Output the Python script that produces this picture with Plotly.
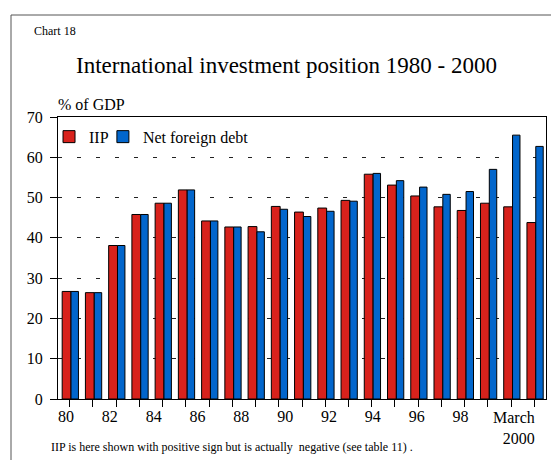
import plotly.graph_objects as go

categories = ["80", "81", "82", "83", "84", "85", "86", "87", "88", "89",
              "90", "91", "92", "93", "94", "95", "96", "97", "98", "99",
              "March 2000"]
iip = [26.7, 26.4, 38.1, 45.8, 48.6, 51.9, 44.2, 42.7, 42.8, 47.8,
       46.4, 47.4, 49.3, 55.8, 53.1, 50.4, 47.7, 46.8, 48.6, 47.7, 43.8]
net_foreign_debt = [26.7, 26.4, 38.1, 45.8, 48.6, 51.9, 44.2, 42.7, 41.5, 47.1,
                    45.3, 46.6, 49.1, 56.0, 54.2, 52.6, 50.8, 51.5, 57.0, 65.5, 62.7]
tick_labels = ["80", "", "82", "", "84", "", "86", "", "88", "", "90", "",
               "92", "", "94", "", "96", "", "98", "", ""]
last_label = "March<br>2000"

FONT = "Liberation Serif, Times New Roman, serif"
RED = "#d8221c"
BLUE = "#0266cc"

fig = go.Figure()
fig.add_trace(go.Bar(
    x=categories, y=iip, name="IIP", legend="legend",
    marker=dict(color=RED, line=dict(color="black", width=1)),
    width=0.38, offset=-0.32,
))
fig.add_trace(go.Bar(
    x=categories, y=net_foreign_debt, name="Net foreign debt", legend="legend2",
    marker=dict(color=BLUE, line=dict(color="black", width=1)),
    width=0.32, offset=0.06,
))
# helper trace so the label axis (x2) is drawn
fig.add_trace(go.Scatter(x=categories, y=[None] * len(categories), xaxis="x2",
                         showlegend=False, hoverinfo="skip", mode="markers"))

# page body adds an 8px offset, so the figure is 8px smaller and margins reduced
fig.update_layout(
    width=551, height=452,
    margin=dict(l=50, r=13, t=109, b=61, autoexpand=False),
    paper_bgcolor="white", plot_bgcolor="white",
    barmode="overlay",
    font=dict(family=FONT, color="black", size=16),
    showlegend=True,
    legend=dict(orientation="h", x=-0.0184, y=0.93, yanchor="middle", xanchor="left",
                bgcolor="rgba(0,0,0,0)", font=dict(size=16, family=FONT),
                itemwidth=30),
    legend2=dict(orientation="h", x=0.092, y=0.93, yanchor="middle", xanchor="left",
                 bgcolor="rgba(0,0,0,0)", font=dict(size=16, family=FONT),
                 itemwidth=30),
    xaxis=dict(
        type="category", categoryorder="array", categoryarray=categories,
        tickmode="array", tickvals=categories, showticklabels=False,
        ticks="outside", ticklen=7, tickcolor="black", tickwidth=1,
        showline=True, linecolor="black", linewidth=1, mirror=True,
        showgrid=False,
        range=[-0.5, len(categories) - 0.5],
    ),
    xaxis2=dict(
        type="category", categoryorder="array", categoryarray=categories,
        overlaying="x", anchor="y", side="bottom",
        tickmode="array", tickvals=categories, ticktext=tick_labels,
        ticks="", showline=False, showgrid=False, zeroline=False,
        tickfont=dict(size=16, family=FONT), ticklabelstandoff=6,
        range=[-0.365, 21.9],
    ),
    yaxis=dict(
        range=[0, 70], dtick=10, tick0=0,
        ticks="outside", ticklen=7, tickcolor="black", tickwidth=1,
        showline=True, linecolor="black", linewidth=1, mirror=True,
        showgrid=True, gridcolor="#222222", gridwidth=1, griddash="4px,15px",
        zeroline=False, tickfont=dict(size=16, family=FONT),
        ticklabelstandoff=4,
    ),
    shapes=[
        dict(type="rect", xref="paper", yref="paper",
             x0=-0.0963, x1=1.05, y0=-0.25, y1=1.3617,
             line=dict(color="#555555", width=1), fillcolor="rgba(0,0,0,0)",
             layer="below"),
    ],
    annotations=[
        dict(text="Chart 18", xref="paper", yref="paper", x=-0.0533, y=1.305,
             xanchor="left", yanchor="middle", showarrow=False,
             font=dict(size=12, family=FONT)),
        dict(text="International investment position 1980 - 2000",
             xref="paper", yref="paper", x=0.469, y=1.184,
             xanchor="center", yanchor="middle", showarrow=False,
             font=dict(size=23, family=FONT)),
        dict(text="% of GDP", xref="paper", yref="paper", x=-0.004, y=1.046,
             xanchor="left", yanchor="middle", showarrow=False,
             font=dict(size=16, family=FONT)),
        dict(text="IIP is here shown with positive sign but is actually  negative (see table 11) .",
             xref="paper", yref="paper", x=-0.018, y=-0.170,
             xanchor="left", yanchor="middle", showarrow=False,
             font=dict(size=12, family=FONT)),
        dict(text=last_label, xref="x", yref="paper", x=categories[-1], y=-0.027,
             xanchor="right", yanchor="top", align="right", xshift=3,
             showarrow=False, font=dict(size=16, family=FONT)),
    ],
)

fig.write_html("out.html")
